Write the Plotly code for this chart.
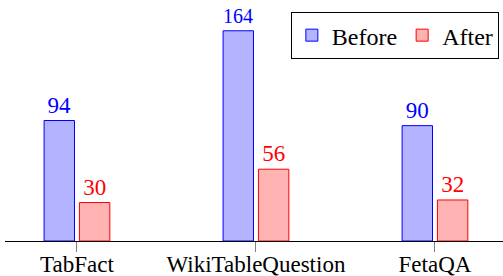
import plotly.graph_objects as go

categories = ["TabFact", "WikiTableQuestion", "FetaQA"]
before = [94, 164, 90]
after = [30, 56, 32]

FONT = "Liberation Serif"

fig = go.Figure()
fig.add_trace(go.Bar(
    x=categories, y=before, name="Before",
    marker=dict(color="rgb(179,179,255)", line=dict(color="rgb(0,0,255)", width=1)),
    text=[str(v) for v in before], textposition="outside",
    textfont=dict(color="rgb(0,0,255)", size=23, family=FONT),
    cliponaxis=False,
))
fig.add_trace(go.Bar(
    x=categories, y=after, name="After",
    marker=dict(color="rgb(255,179,179)", line=dict(color="rgb(255,0,0)", width=1)),
    text=[str(v) for v in after], textposition="outside",
    textfont=dict(color="rgb(255,0,0)", size=23, family=FONT),
    cliponaxis=False,
))

fig.update_layout(
    width=503, height=276,
    margin=dict(l=5, r=0, t=0, b=35),
    paper_bgcolor="white", plot_bgcolor="white",
    barmode="group", bargap=0.605, bargroupgap=0.14,
    font=dict(family=FONT, size=23, color="black"),
    showlegend=True,
    legend=dict(
        orientation="h", x=0.574, xanchor="left", y=0.95, yanchor="top",
        bordercolor="black", borderwidth=1, bgcolor="white",
        font=dict(size=24, family=FONT),
        itemwidth=30,
    ),
    xaxis=dict(
        range=[-0.402, 2.38], showline=True, linecolor="black", linewidth=1,
        ticks="outside", ticklen=10, tickcolor="gray", tickwidth=1,
        ticklabelstandoff=-8, automargin=False,
        showgrid=False, tickfont=dict(size=23, family=FONT),
    ),
    yaxis=dict(range=[0, 188], visible=False, showgrid=False, zeroline=False),
)

fig.write_html(
    "out.html",
    config={"displayModeBar": False},
    post_script="document.body.style.margin='0';document.body.style.overflow='hidden';",
)
